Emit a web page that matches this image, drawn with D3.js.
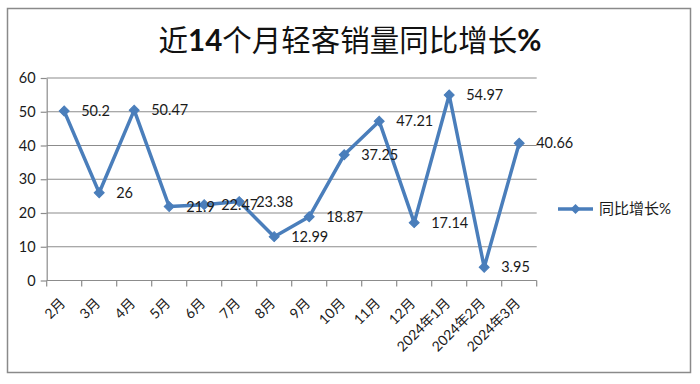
<!DOCTYPE html>
<html>
<head>
<meta charset="utf-8">
<script src="https://cdn.jsdelivr.net/npm/d3@7"></script>
<style>
  body { margin: 0; background: #fff; }
  svg { display: block; font-family: Lato, 'Noto Sans CJK SC', sans-serif; }
</style>
</head>
<body>
<script>
// chart data
const months = ['2月', '3月', '4月', '5月', '6月', '7月', '8月', '9月', '10月', '11月', '12月',
  '2024年1月', '2024年2月', '2024年3月'];
const growth = [50.2, 26, 50.47, 21.9, 22.47, 23.38, 12.99, 18.87, 37.25, 47.21, 17.14, 54.97, 3.95, 40.66];
const yTicks = [0, 10, 20, 30, 40, 50, 60];
const seriesName = '同比增长%';

const w = 700;
const h = 384;
const lineColor = '#4a7ebb';
const gridColor = '#8c8c8c';

const svg = d3.select('body')
  .append('svg')
  .attr('width', w)
  .attr('height', h);

// outer frame
svg.append('rect')
  .attr('x', 7.5).attr('y', 8.5)
  .attr('width', 683).attr('height', 364)
  .attr('fill', '#fff')
  .attr('stroke', '#8a8a8a')
  .attr('stroke-width', 1.5);

// title, digits and % are bold
const title = svg.append('text')
  .attr('x', 350).attr('y', 51)
  .attr('text-anchor', 'middle')
  .style('font-size', '29.5px')
  .attr('fill', '#111');
title.append('tspan').text('近');
title.append('tspan').attr('font-weight', 'bold').text('14');
title.append('tspan').text('个月轻客销量同比增长');
title.append('tspan').attr('font-weight', 'bold').text('%');

//scales
const xScale = d3.scaleBand().domain(months).range([46.7, 536.7]);
const yScale = d3.scaleLinear().domain([0, 60]).range([280.5, 78]);
const cx = (d) => xScale(d) + xScale.bandwidth() / 2;

// horizontal gridlines
svg.append('g')
  .selectAll('line')
  .data(yTicks.filter((t) => t > 0))
  .enter()
  .append('line')
  .attr('x1', 46.7).attr('x2', 536.7)
  .attr('y1', (d) => yScale(d)).attr('y2', (d) => yScale(d))
  .attr('stroke', gridColor)
  .attr('stroke-width', 1.2);

//y axis
const yAxis = d3.axisLeft(yScale).tickValues(yTicks).tickSize(6).tickSizeOuter(0).tickPadding(5);
const gy = svg.append('g')
  .attr('transform', 'translate(46.7,0)')
  .call(yAxis);
gy.select('.domain').attr('stroke', gridColor).attr('stroke-width', 1.2);
gy.selectAll('.tick line').attr('stroke', gridColor).attr('stroke-width', 1.2);
gy.selectAll('.tick text')
  .style('font-size', '14.5px')
  .style('font-family', 'Lato, sans-serif')
  .attr('fill', '#1a1a1a');

//x axis, ticks on band edges
const edges = months.map((m) => xScale(m)).concat([536.7]);
svg.append('line')
  .attr('x1', 46.7).attr('x2', 536.7)
  .attr('y1', 280.5).attr('y2', 280.5)
  .attr('stroke', gridColor).attr('stroke-width', 1.2);
svg.append('g')
  .selectAll('line')
  .data(edges)
  .enter()
  .append('line')
  .attr('x1', (d) => d).attr('x2', (d) => d)
  .attr('y1', 280.5).attr('y2', 286.5)
  .attr('stroke', gridColor).attr('stroke-width', 1.2);

svg.append('g')
  .selectAll('text')
  .data(months)
  .enter()
  .append('text')
  .attr('transform', (d) => `translate(${cx(d) + 2}, 304) rotate(-45)`)
  .attr('text-anchor', 'end')
  .style('font-size', '14px')
  .attr('fill', '#1a1a1a')
  .text((d) => d);

// line series
const line = d3.line()
  .x((d, i) => cx(months[i]))
  .y((d) => yScale(d));

svg.append('path')
  .datum(growth)
  .attr('d', line)
  .attr('fill', 'none')
  .attr('stroke', lineColor)
  .attr('stroke-width', 3.5)
  .attr('stroke-linejoin', 'round');

// diamond markers
const diamond = d3.symbol().type(d3.symbolSquare).size(50);
svg.append('g')
  .selectAll('path')
  .data(growth)
  .enter()
  .append('path')
  .attr('d', diamond)
  .attr('transform', (d, i) => `translate(${cx(months[i])}, ${yScale(d)}) rotate(45)`)
  .attr('fill', lineColor)
  .attr('stroke', lineColor)
  .attr('stroke-width', 1);

// value labels to the right of each point
svg.append('g')
  .selectAll('text')
  .data(growth)
  .enter()
  .append('text')
  .attr('x', (d, i) => cx(months[i]) + 17)
  .attr('y', (d) => yScale(d))
  .attr('dy', '0.35em')
  .style('font-size', '14.5px')
  .attr('fill', '#1a1a1a')
  .text((d) => d);

// legend
const legend = svg.append('g').attr('transform', 'translate(558, 209)');
legend.append('line')
  .attr('x1', 0).attr('x2', 35)
  .attr('stroke', lineColor).attr('stroke-width', 3.5);
legend.append('path')
  .attr('d', diamond)
  .attr('transform', 'translate(17.5, 0) rotate(45)')
  .attr('fill', lineColor);
legend.append('text')
  .attr('x', 41).attr('dy', '0.35em')
  .style('font-size', '15px')
  .attr('fill', '#1a1a1a')
  .text(seriesName);
</script>
</body>
</html>
